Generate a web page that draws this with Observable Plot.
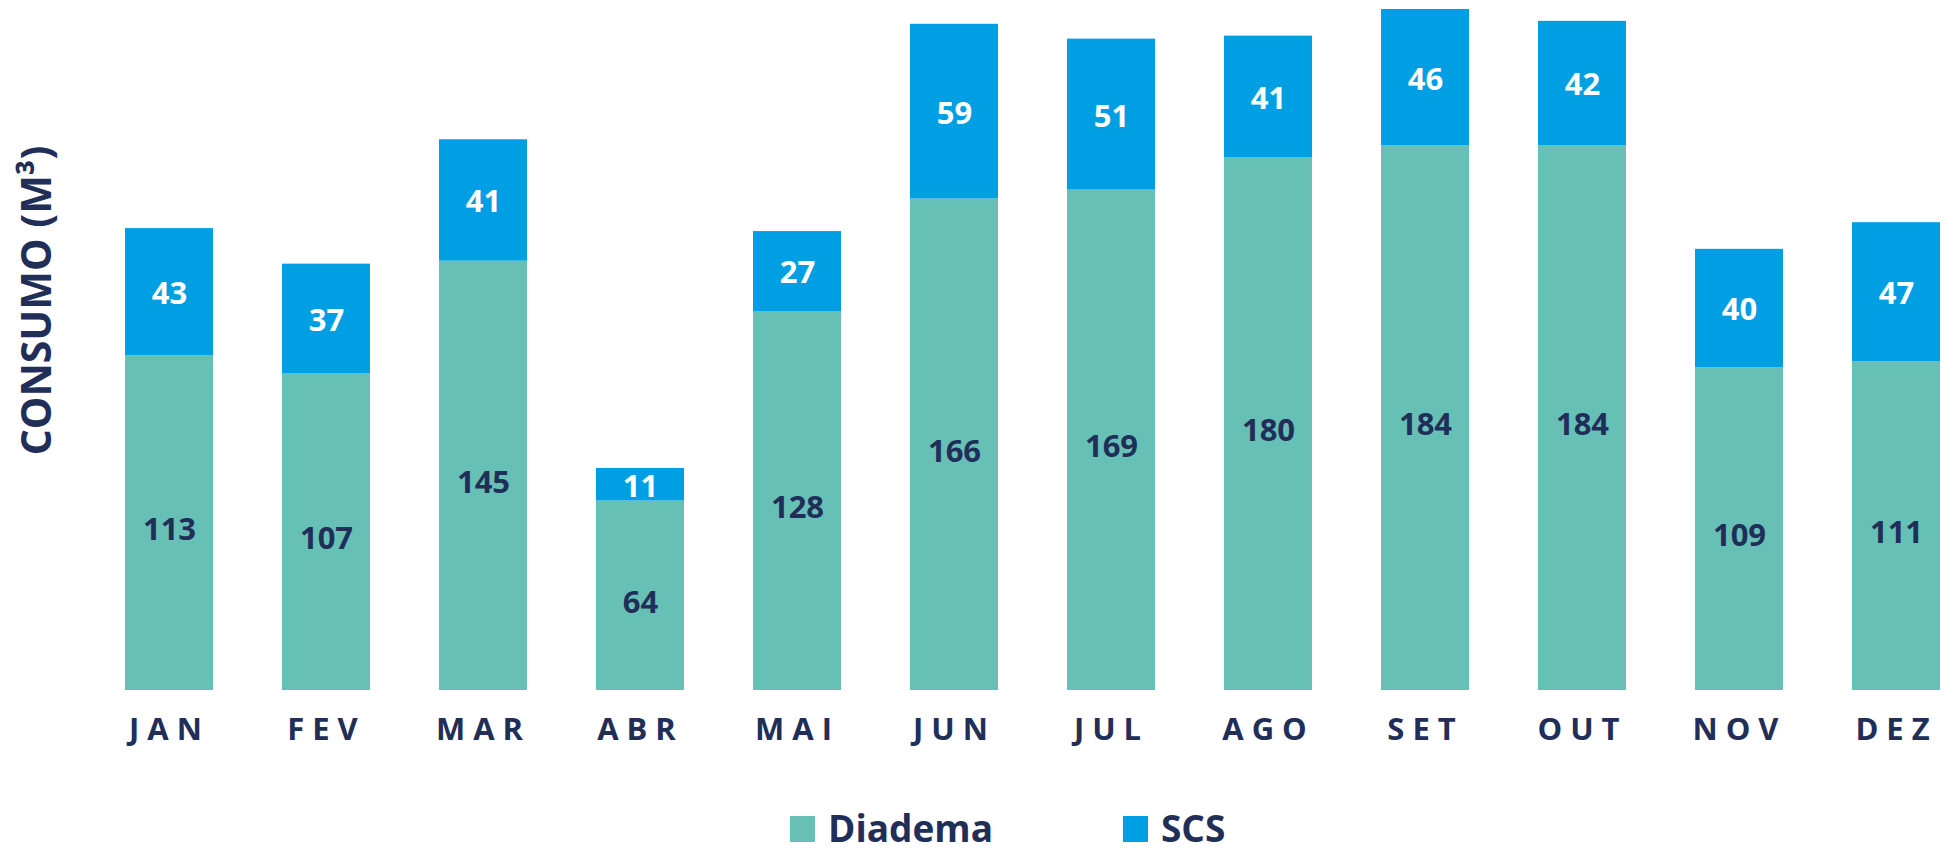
<!DOCTYPE html>
<html>
<head>
<meta charset="utf-8">
<script src="https://cdn.jsdelivr.net/npm/d3@7"></script>
<script src="https://cdn.jsdelivr.net/npm/@observablehq/plot@0.6"></script>
<style>
  html, body { margin: 0; padding: 0; background: #fff; }
  #wrap { position: relative; width: 1950px; height: 853px; overflow: hidden; font-family: "Open Sans", sans-serif; }
  #chart svg { display: block; }
  #chart g[aria-label="x-axis tick label"] text { letter-spacing: 8px; }
  .legend { position: absolute; top: 809px; left: 790px; display: flex; align-items: flex-start; font-family: "Open Sans", sans-serif; font-weight: 700; font-size: 37px; line-height: 37px; color: #202e58; }
  .legend .item { display: flex; align-items: flex-start; }
  .legend .sw { width: 25px; height: 26px; margin-top: 7px; margin-right: 13px; }
</style>
</head>
<body>
<div id="wrap">
  <div id="chart"></div>
  <div class="legend" id="legend"></div>
</div>
<script>
const months = ["JAN", "FEV", "MAR", "ABR", "MAI", "JUN", "JUL", "AGO", "SET", "OUT", "NOV", "DEZ"];
const seriesNames = ["Diadema", "SCS"];
const diadema = [113, 107, 145, 64, 128, 166, 169, 180, 184, 184, 109, 111];
const scs = [43, 37, 41, 11, 27, 59, 51, 41, 46, 42, 40, 47];
const yLabel = "CONSUMO (M³)";

const colors = {Diadema: "#67c0b6", SCS: "#009fe3"};
const labelColors = {Diadema: "#202e58", SCS: "#ffffff"};
const navy = "#202e58";

const data = [];
months.forEach((m, i) => {
  data.push({month: m, series: "Diadema", value: diadema[i]});
  data.push({month: m, series: "SCS", value: scs[i]});
});

const font = "Open Sans";

const chart = Plot.plot({
  width: 1950,
  height: 780,
  marginLeft: 122,
  marginRight: 8,
  marginTop: 9,
  marginBottom: 90,
  style: {fontFamily: font, background: "#fff"},
  x: {domain: months, paddingInner: 0.44, paddingOuter: 0, label: null},
  y: {domain: [0, 230], axis: null},
  color: {type: "identity"},
  marks: [
    Plot.barY(data, Plot.stackY({x: "month", y: "value", z: "series", fill: d => colors[d.series]})),
    Plot.text(data, Plot.filter(d => d.series === "Diadema", Plot.stackY({
      x: "month", y: "value", z: "series", text: d => String(d.value),
      fill: labelColors.Diadema, fontSize: 31, fontWeight: 700, fontFamily: font, dy: 7
    }))),
    Plot.text(data, Plot.filter(d => d.series === "SCS", Plot.stackY({
      x: "month", y: "value", z: "series", text: d => String(d.value),
      fill: labelColors.SCS, fontSize: 31, fontWeight: 700, fontFamily: font, dy: 2
    }))),
    Plot.axisX({tickSize: 0, tickPadding: 27, fontSize: 31, fontWeight: 700, fill: navy, label: null}),
    Plot.text([yLabel], {
      frameAnchor: "left", textAnchor: "middle", lineAnchor: "middle", rotate: -90, dx: -84.5, dy: -49.5,
      fontSize: 41, fontWeight: 700, fontFamily: font, fill: navy
    })
  ]
});
document.getElementById("chart").appendChild(chart);

const legend = document.getElementById("legend");
seriesNames.forEach((s, i) => {
  const item = document.createElement("div");
  item.className = "item";
  if (i > 0) item.style.marginLeft = "130px";
  const sw = document.createElement("div");
  sw.className = "sw";
  sw.style.background = colors[s];
  const t = document.createElement("span");
  t.textContent = s;
  item.appendChild(sw);
  item.appendChild(t);
  legend.appendChild(item);
});
</script>
</body>
</html>
